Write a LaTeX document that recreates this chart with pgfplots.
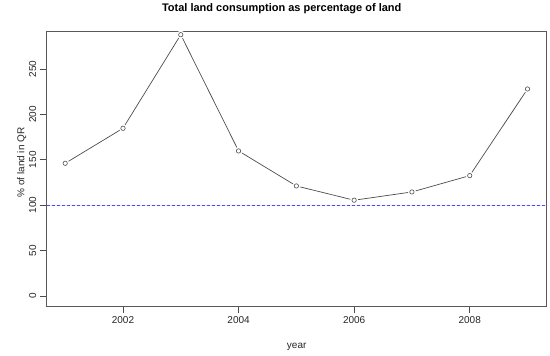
\documentclass[border=0pt]{standalone}
\usepackage{fontspec}
\setmainfont{Liberation Sans}
\usepackage{xcolor}
\usepackage{pgfplots}
\pgfplotsset{compat=1.18}
\definecolor{refblue}{rgb}{0.3,0.3,0.95}
\begin{document}
\begin{tikzpicture}[x=1bp,y=1bp]
\useasboundingbox (0,0) rectangle (550,355);
\begin{axis}[at={(46.7bp,49bp)}, anchor=south west, scale only axis,
  width=499.3bp, height=275bp,
  xmin=2000.68, xmax=2009.32, ymin=-11.2, ymax=291.9,
  xtick={2002,2004,2006,2008}, ytick={0,50,100,150,200,250},
  xtick pos=bottom, ytick pos=left, tick align=outside,
  major tick length=7bp,
  axis line style={draw=black!65, line width=0.7bp},
  every tick/.style={black!70, line width=0.6bp},
  /pgf/number format/assume math mode=true,
  /pgf/number format/set thousands separator={},
  tick label style={font=\fontsize{10bp}{12bp}\selectfont, text=black!85},
  yticklabel style={rotate=90, anchor=south},
  clip=false]
\addplot[draw=refblue, fill=refblue, color=refblue, line width=1bp, dashed, dash pattern=on 3bp off 2bp, forget plot] coordinates {(2000.68,100) (2009.32,100)};
\addplot[color=black!70, line width=0.7bp, no markers] coordinates {
(2001,146.1) (2002,184.7) (2003,287.8) (2004,159.7) (2005,121.1) (2006,105.4) (2007,114.5) (2008,132.5) (2009,228.0)};
\addplot[only marks, mark=*, mark size=3.8bp, mark options={draw=white, fill=white}] coordinates {
(2001,146.1) (2002,184.7) (2003,287.8) (2004,159.7) (2005,121.1) (2006,105.4) (2007,114.5) (2008,132.5) (2009,228.0)};
\addplot[only marks, mark=o, mark size=2.2bp, mark options={draw=black!70, line width=0.6bp}] coordinates {
(2001,146.1) (2002,184.7) (2003,287.8) (2004,159.7) (2005,121.1) (2006,105.4) (2007,114.5) (2008,132.5) (2009,228.0)};
\end{axis}
\node[font=\bfseries\fontsize{11bp}{13bp}\selectfont] at (281.7,346.3) {Total land consumption as percentage of land};
\node[font=\fontsize{10bp}{12bp}\selectfont, text=black!85] at (296.7,8.3) {year};
\node[font=\fontsize{10bp}{12bp}\selectfont, text=black!85, rotate=90] at (21.7,192.5) {\% of land in QR};
\end{tikzpicture}
\end{document}
